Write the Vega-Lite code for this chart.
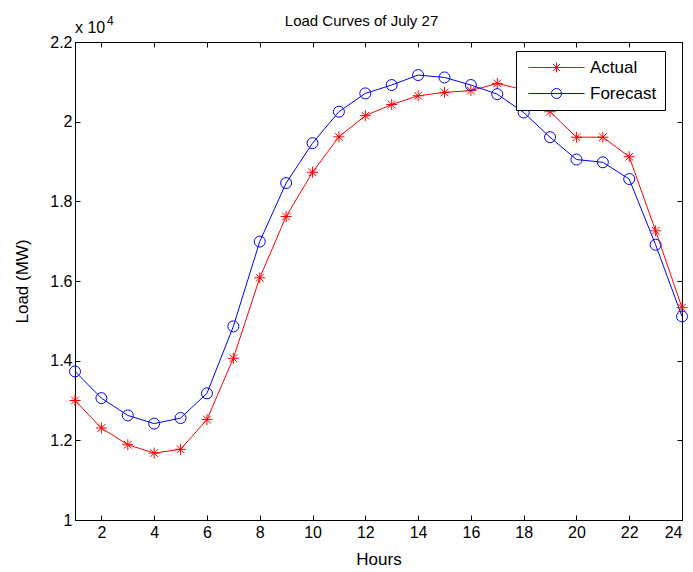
{
  "$schema": "https://vega.github.io/schema/vega-lite/v6.json",
  "width": 607,
  "height": 478,
  "autosize": {"type": "none"},
  "padding": {"left": 75, "top": 42, "right": 11, "bottom": 52},
  "background": "white",
  "config": {
    "font": "Liberation Sans",
    "view": {"stroke": "black", "strokeWidth": 1},
    "axis": {
      "domainColor": "black",
      "tickColor": "black",
      "tickSize": -5,
      "labelColor": "black",
      "labelFontSize": 16,
      "labelFont": "Liberation Sans",
      "titleFont": "Liberation Sans",
      "titleFontSize": 17,
      "titleFontWeight": "normal",
      "titleColor": "black",
      "grid": false,
      "labelPadding": 8
    }
  },
  "title": {
    "text": "Load Curves of July 27",
    "fontSize": 15,
    "fontWeight": "normal",
    "font": "Liberation Sans",
    "color": "black",
    "frame": "group",
    "offset": -14,
    "dx": -17
  },
  "data": {
    "values": [
      {"hour": 1, "series": "Actual", "load": 13000},
      {"hour": 2, "series": "Actual", "load": 12310},
      {"hour": 3, "series": "Actual", "load": 11890},
      {"hour": 4, "series": "Actual", "load": 11680},
      {"hour": 5, "series": "Actual", "load": 11775},
      {"hour": 6, "series": "Actual", "load": 12520},
      {"hour": 7, "series": "Actual", "load": 14060},
      {"hour": 8, "series": "Actual", "load": 16080},
      {"hour": 9, "series": "Actual", "load": 17620},
      {"hour": 10, "series": "Actual", "load": 18730},
      {"hour": 11, "series": "Actual", "load": 19620},
      {"hour": 12, "series": "Actual", "load": 20150},
      {"hour": 13, "series": "Actual", "load": 20430},
      {"hour": 14, "series": "Actual", "load": 20650},
      {"hour": 15, "series": "Actual", "load": 20735},
      {"hour": 16, "series": "Actual", "load": 20780},
      {"hour": 17, "series": "Actual", "load": 20960},
      {"hour": 18, "series": "Actual", "load": 20800},
      {"hour": 19, "series": "Actual", "load": 20250},
      {"hour": 20, "series": "Actual", "load": 19610},
      {"hour": 21, "series": "Actual", "load": 19610},
      {"hour": 22, "series": "Actual", "load": 19120},
      {"hour": 23, "series": "Actual", "load": 17260},
      {"hour": 24, "series": "Actual", "load": 15330},
      {"hour": 1, "series": "Forecast", "load": 13730},
      {"hour": 2, "series": "Forecast", "load": 13060},
      {"hour": 3, "series": "Forecast", "load": 12625},
      {"hour": 4, "series": "Forecast", "load": 12420},
      {"hour": 5, "series": "Forecast", "load": 12560},
      {"hour": 6, "series": "Forecast", "load": 13180},
      {"hour": 7, "series": "Forecast", "load": 14860},
      {"hour": 8, "series": "Forecast", "load": 16990},
      {"hour": 9, "series": "Forecast", "load": 18460},
      {"hour": 10, "series": "Forecast", "load": 19460},
      {"hour": 11, "series": "Forecast", "load": 20250},
      {"hour": 12, "series": "Forecast", "load": 20710},
      {"hour": 13, "series": "Forecast", "load": 20920},
      {"hour": 14, "series": "Forecast", "load": 21170},
      {"hour": 15, "series": "Forecast", "load": 21110},
      {"hour": 16, "series": "Forecast", "load": 20920},
      {"hour": 17, "series": "Forecast", "load": 20690},
      {"hour": 18, "series": "Forecast", "load": 20230},
      {"hour": 19, "series": "Forecast", "load": 19610},
      {"hour": 20, "series": "Forecast", "load": 19050},
      {"hour": 21, "series": "Forecast", "load": 18980},
      {"hour": 22, "series": "Forecast", "load": 18560},
      {"hour": 23, "series": "Forecast", "load": 16910},
      {"hour": 24, "series": "Forecast", "load": 15110}
    ]
  },
  "layer": [
    {
      "layer": [
        {
          "mark": {"type": "line", "strokeWidth": 1},
          "encoding": {
            "x": {"field": "hour", "type": "quantitative", "scale": {"domain": [1, 24], "nice": false, "zero": false},
                  "axis": {"title": "Hours", "values": [2, 4, 6, 8, 10, 12, 14, 16, 18, 20, 22, 24], "titlePadding": 11, "labelPadding": 9}},
            "y": {"field": "load", "type": "quantitative", "scale": {"domain": [10000, 22000], "nice": false, "zero": false},
                  "axis": {"title": "Load (MW)", "values": [10000, 12000, 14000, 16000, 18000, 20000, 22000], "labelExpr": "datum.value / 10000 + ''", "titlePadding": 18}},
            "color": {"field": "series", "type": "nominal", "scale": {"domain": ["Actual", "Forecast"], "range": ["#ff0000", "#0000ff"]}, "legend": null}
          }
        },
        {
          "mark": {"type": "point", "filled": false, "strokeWidth": 1, "size": 121, "opacity": 1},
          "encoding": {
            "x": {"field": "hour", "type": "quantitative"},
            "y": {"field": "load", "type": "quantitative"},
            "color": {"field": "series", "type": "nominal", "scale": {"domain": ["Actual", "Forecast"], "range": ["#ff0000", "#0000ff"]}, "legend": null},
            "shape": {"field": "series", "type": "nominal", "scale": {"domain": ["Actual", "Forecast"], "range": ["M-1,0L1,0M0,-1L0,1M-0.7,-0.7L0.7,0.7M-0.7,0.7L0.7,-0.7", "M1,0A1,1,0,1,1,-1,0A1,1,0,1,1,1,0"]}, "legend": null}
          }
        },
        {
          "mark": {"type": "point", "filled": false, "strokeWidth": 1, "size": 100, "opacity": 0},
          "encoding": {
            "x": {"field": "hour", "type": "quantitative"},
            "y": {"field": "load", "type": "quantitative"},
            "color": {"field": "series", "type": "nominal", "scale": {"domain": ["Actual", "Forecast"], "range": ["#ff0000", "#0000ff"]},
                      "legend": {"title": null, "orient": "none", "legendX": 441, "legendY": 9, "strokeColor": "black", "fillColor": "white", "padding": 8, "labelFontSize": 17, "labelFont": "Liberation Sans", "labelColor": "black", "symbolSize": 100, "symbolStrokeWidth": 1, "symbolOpacity": 1, "symbolOffset": 24, "labelOffset": 25, "rowPadding": 8, "cornerRadius": 0}},
            "shape": {"field": "series", "type": "nominal", "scale": {"domain": ["Actual", "Forecast"], "range": ["M-5.6,0L5.6,0M0,-1L0,1M-0.7,-0.7L0.7,0.7M-0.7,0.7L0.7,-0.7", "M-5.6,0L5.6,0M1,0A1,1,0,1,1,-1,0A1,1,0,1,1,1,0"]},
                      "legend": {"title": null, "orient": "none", "legendX": 441, "legendY": 9, "strokeColor": "black", "fillColor": "white", "padding": 8, "labelFontSize": 17, "labelFont": "Liberation Sans", "labelColor": "black", "symbolSize": 100, "symbolStrokeWidth": 1, "symbolOpacity": 1, "symbolOffset": 24, "labelOffset": 25, "rowPadding": 8, "cornerRadius": 0}}
          }
        },
        {
          "data": {"values": [{"label": "x 10"}]},
          "mark": {"type": "text", "align": "left", "baseline": "middle", "dy": -14, "fontSize": 16, "font": "Liberation Sans", "color": "black"},
          "encoding": {
            "x": {"datum": 1, "type": "quantitative"},
            "y": {"datum": 22000, "type": "quantitative"},
            "text": {"field": "label", "type": "nominal"}
          }
        },
        {
          "data": {"values": [{"label": "4"}]},
          "mark": {"type": "text", "align": "left", "baseline": "middle", "dx": 32, "dy": -21, "fontSize": 12, "font": "Liberation Sans", "color": "black"},
          "encoding": {
            "x": {"datum": 1, "type": "quantitative"},
            "y": {"datum": 22000, "type": "quantitative"},
            "text": {"field": "label", "type": "nominal"}
          }
        }
      ],
      "resolve": {"scale": {"shape": "independent", "color": "independent"}}
    },
    {
      "mark": {"type": "line", "opacity": 0},
      "encoding": {
        "x": {"field": "hour", "type": "quantitative", "scale": {"domain": [1, 24], "nice": false, "zero": false},
              "axis": {"orient": "top", "labels": false, "title": null, "domain": false, "values": [2, 4, 6, 8, 10, 12, 14, 16, 18, 20, 22, 24]}},
        "y": {"field": "load", "type": "quantitative", "scale": {"domain": [10000, 22000], "nice": false, "zero": false},
              "axis": {"orient": "right", "labels": false, "title": null, "domain": false, "values": [10000, 12000, 14000, 16000, 18000, 20000, 22000]}},
        "detail": {"field": "series", "type": "nominal"}
      }
    }
  ],
  "resolve": {"scale": {"x": "independent", "y": "independent"}}
}
